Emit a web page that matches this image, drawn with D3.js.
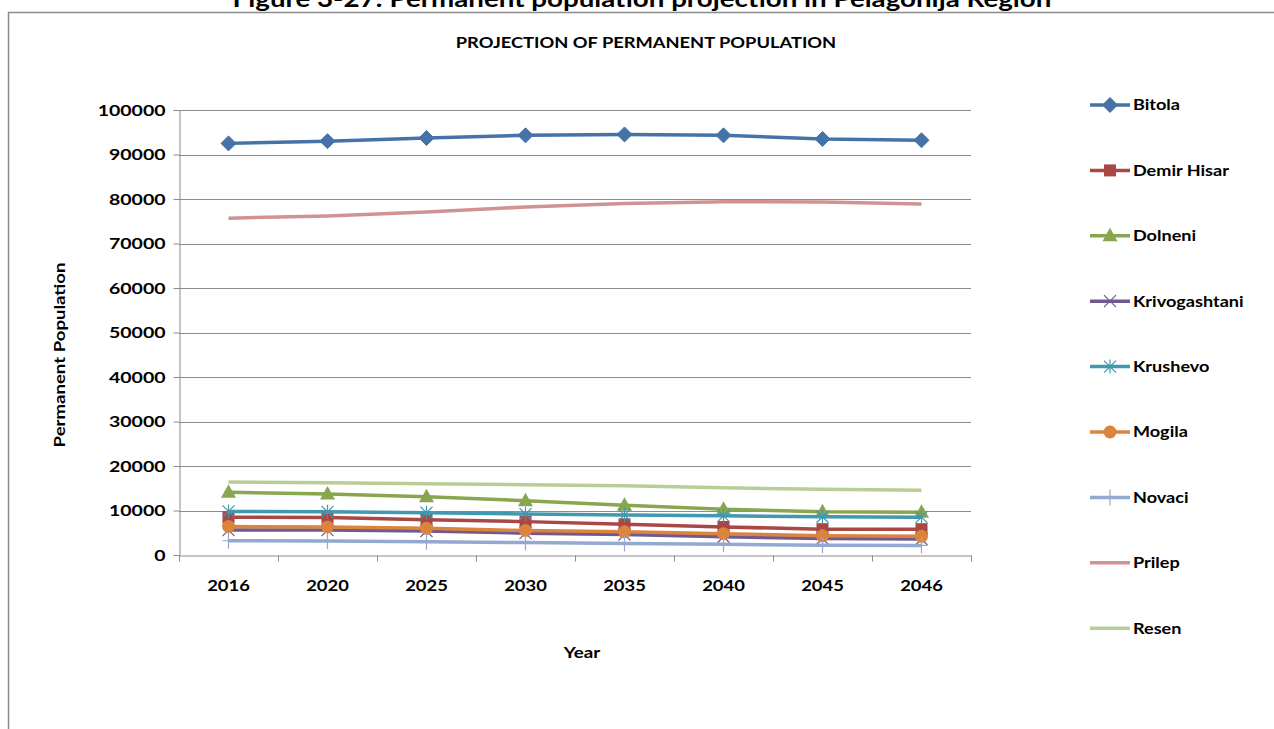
<!DOCTYPE html>
<html><head><meta charset="utf-8">
<script src="https://cdn.jsdelivr.net/npm/d3@7"></script>
<style>
html,body{margin:0;padding:0;background:#fff;}
svg{display:block;font-family:Lato,"Open Sans",sans-serif;}
</style></head>
<body>
<svg id="c" width="1274" height="729"></svg>
<script>
const years = ["2016","2020","2025","2030","2035","2040","2045","2046"];
const seriesNames = ["Bitola","Demir Hisar","Dolneni","Krivogashtani","Krushevo","Mogila","Novaci","Prilep","Resen"];
const bitola        = [92500, 93000, 93700, 94300, 94500, 94300, 93500, 93200];
const demirHisar    = [8500, 8400, 7900, 7500, 6900, 6300, 5800, 5800];
const dolneni       = [14100, 13700, 13100, 12200, 11200, 10300, 9700, 9600];
const krivogashtani = [5600, 5600, 5400, 4900, 4600, 4100, 3700, 3600];
const krushevo      = [9800, 9700, 9500, 9200, 9000, 8800, 8600, 8500];
const mogila        = [6400, 6300, 6000, 5500, 5200, 4800, 4300, 4200];
const novaci        = [3200, 3150, 3000, 2800, 2600, 2400, 2200, 2150];
const prilep        = [75700, 76200, 77100, 78200, 79000, 79400, 79300, 78900];
const resen         = [16400, 16250, 16000, 15800, 15550, 15100, 14750, 14550];
const yTicks = [0,10000,20000,30000,40000,50000,60000,70000,80000,90000,100000];

const seriesValues = [bitola, demirHisar, dolneni, krivogashtani, krushevo, mogila, novaci, prilep, resen];
const colors = ["#4572A7","#AA4643","#89A54E","#71588F","#4198AF","#DB843D","#93A9CF","#D19392","#B9CD96"];
const markers = ["diamond","square","triangle","x","star","circle","plus","none","none"];

const svg = d3.select("#c");

// horizontal stretch of text around its anchor x
function stretch(sel, f) {
  sel.each(function() {
    const t = d3.select(this);
    const ax = +(t.attr("x") || 0);
    const prev = t.attr("transform") || "";
    t.attr("transform", `${prev} translate(${ax},0) scale(${f},1) translate(${-ax},0)`);
  });
}

// figure caption (clipped at top)
svg.append("text").attr("x", 642).attr("y", 7).attr("text-anchor","middle")
  .attr("font-size", 22).attr("font-weight","bold").attr("fill","#000")
  .text("Figure 3-27: Permanent population projection in Pelagonija Region")
  .call(stretch, 1.26);

// chart border
svg.append("rect").attr("x", 8.5).attr("y", 12.5).attr("width", 1300).attr("height", 800)
  .attr("fill","#fff").attr("stroke","#8a8a8a").attr("stroke-width",1.5);

const L = 179, R = 971, T = 110, B = 555;
const x = d3.scaleBand().domain(years).range([L, R]);
const y = d3.scaleLinear().domain([0, 100000]).range([B, T]);

// gridlines
const g = svg.append("g");
g.selectAll("line.grid").data(yTicks.filter(d=>d>0)).join("line")
  .attr("x1", L).attr("x2", R).attr("y1", d=>Math.round(y(d))+0.5).attr("y2", d=>Math.round(y(d))+0.5)
  .attr("stroke","#8c8c8c").attr("stroke-width",1);

// y axis
const yAxis = d3.axisLeft(y).tickValues(yTicks).tickSize(6).tickPadding(8).tickFormat(d3.format("d"));
const ya = svg.append("g").attr("transform", `translate(${L+0.5},0)`).call(yAxis);
ya.select(".domain").attr("stroke","#8c8c8c");
ya.selectAll(".tick line").attr("stroke","#8c8c8c");
ya.selectAll("text").attr("font-size",16).attr("font-weight","bold").attr("fill","#000")
  .attr("font-family","Lato").call(stretch, 1.22);

// x axis
const xAxis = d3.axisBottom(x).tickSize(0).tickPadding(24);
const xa = svg.append("g").attr("transform", `translate(0,${B+0.5})`).call(xAxis);
xa.select(".domain").attr("stroke","#8c8c8c");
xa.selectAll("text").attr("font-size",16).attr("font-weight","bold").attr("fill","#000")
  .attr("font-family","Lato").call(stretch, 1.15);
// tick marks at band boundaries
xa.selectAll("line.bt").data(d3.range(years.length+1)).join("line")
  .attr("class","bt")
  .attr("x1", i=>Math.round(L + i*x.step())+0.5).attr("x2", i=>Math.round(L + i*x.step())+0.5)
  .attr("y1",0).attr("y2",6).attr("stroke","#8c8c8c");

// titles
svg.append("text").attr("x", 646).attr("y", 48).attr("text-anchor","middle")
  .attr("font-size",15).attr("font-weight","bold").text("PROJECTION OF PERMANENT POPULATION")
  .call(stretch, 1.22);
svg.append("text").attr("transform","translate(65,355) rotate(-90) scale(1.24,1)").attr("text-anchor","middle")
  .attr("font-size",15).attr("font-weight","bold").text("Permanent Population");
svg.append("text").attr("x", 582).attr("y", 658).attr("text-anchor","middle")
  .attr("font-size",15).attr("font-weight","bold").text("Year").call(stretch, 1.25);

function drawMarker(sel, type, color, cx, cy) {
  const s = sel.append("g").attr("transform", `translate(${cx},${cy})`);
  if (type === "diamond") {
    s.append("path").attr("d","M0,-7.5L7.5,0L0,7.5L-7.5,0Z").attr("fill",color).attr("stroke",color).attr("stroke-width",1);
  } else if (type === "square") {
    s.append("rect").attr("x",-6).attr("y",-6).attr("width",12).attr("height",12).attr("fill",color);
  } else if (type === "triangle") {
    s.append("path").attr("d","M0,-8L7.5,5.5L-7.5,5.5Z").attr("fill",color);
  } else if (type === "circle") {
    s.append("circle").attr("r",6.5).attr("fill",color);
  } else if (type === "x") {
    s.append("path").attr("d","M-6,-6L6,6M-6,6L6,-6").attr("stroke",color).attr("stroke-width",1.2);
  } else if (type === "star") {
    s.append("path").attr("d","M-6,-6L6,6M-6,6L6,-6M0,-7L0,7").attr("stroke",color).attr("stroke-width",1.2);
  } else if (type === "plus") {
    s.append("path").attr("d","M-6,0L6,0M0,-8L0,8").attr("stroke",color).attr("stroke-width",1.2);
  }
}

const line = d3.line().x((d,i)=>x(years[i]) + x.bandwidth()/2).y(d=>y(d));
const plot = svg.append("g");
seriesValues.forEach((vals, k) => {
  plot.append("path").datum(vals).attr("d", line).attr("fill","none")
    .attr("stroke", colors[k]).attr("stroke-width", 3.5).attr("stroke-linejoin","round");
  if (markers[k] !== "none") {
    vals.forEach((v,i) => drawMarker(plot, markers[k], colors[k], x(years[i]) + x.bandwidth()/2, y(v)));
  }
});

// legend
const leg = svg.append("g");
seriesNames.forEach((name, k) => {
  const ly = 105 + k*65.4;
  leg.append("line").attr("x1",1090).attr("x2",1130).attr("y1",ly).attr("y2",ly)
    .attr("stroke",colors[k]).attr("stroke-width",3.5);
  if (markers[k] !== "none") drawMarker(leg, markers[k], colors[k], 1110, ly);
  leg.append("text").attr("x",1133).attr("y",ly+5.5).attr("font-size",16).attr("font-weight","bold")
    .attr("fill","#000").text(name).call(stretch, 1.13);
});
</script>
</body></html>
